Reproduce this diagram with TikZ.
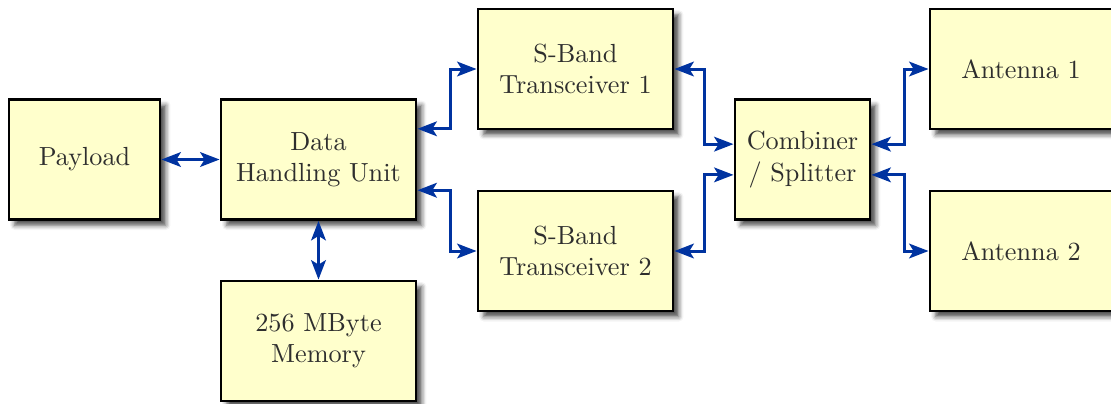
\documentclass[tikz,border=0pt]{standalone}
\usetikzlibrary{arrows.meta,calc,shadows.blur}
\definecolor{boxfill}{HTML}{FFFFCC}
\definecolor{linkblue}{HTML}{0033A0}
\tikzset{
  block/.style={draw=black, line width=1.1pt, fill=boxfill, text=black!82,
    align=center, inner sep=2pt, minimum height=45.8pt,
    blur shadow={shadow xshift=2.2pt, shadow yshift=-2.2pt,
      shadow blur radius=1.8pt, shadow opacity=70}},
  wide/.style={minimum width=74.42pt},
  tip/.style={Stealth[length=7.4pt,width=5.6pt,inset=1.7pt]},
  link/.style={draw=linkblue, line width=1.15pt, {Stealth[length=7.4pt,width=5.6pt,inset=1.7pt]}-{Stealth[length=7.4pt,width=5.6pt,inset=1.7pt]}}
}
\begin{document}
\begin{tikzpicture}[x=0.38164pt, y=-0.38164pt]
  \useasboundingbox (0,0) rectangle (1111,403);
  % blocks
  \node[block, minimum width=57.63pt] (pay) at (84.5,159.5) {Payload};
  \node[block, wide] (dhu) at (318.5,159.5) {Data\\Handling Unit};
  \node[block, wide] (mem) at (318.5,341) {256 MByte\\Memory};
  \node[block, wide] (st1) at (575.5,69) {S-Band\\Transceiver 1};
  \node[block, wide] (st2) at (575.5,251) {S-Band\\Transceiver 2};
  \node[block, minimum width=51.52pt] (comb) at (802.5,159.5) {Combiner\\/ Splitter};
  \node[block, minimum width=69.46pt] (ant1) at (1021,69) {Antenna 1};
  \node[block, minimum width=69.46pt] (ant2) at (1021,251) {Antenna 2};
  % ports on the sides of the data handling unit and the combiner
  \coordinate (dhuA) at ($(dhu.north east)!0.25!(dhu.south east)$);
  \coordinate (dhuB) at ($(dhu.north east)!0.75!(dhu.south east)$);
  \coordinate (combLA) at ($(comb.north west)!0.375!(comb.south west)$);
  \coordinate (combLB) at ($(comb.north west)!0.625!(comb.south west)$);
  \coordinate (combRA) at ($(comb.north east)!0.375!(comb.south east)$);
  \coordinate (combRB) at ($(comb.north east)!0.625!(comb.south east)$);
  % connections
  \draw[link] (pay.east) -- (dhu.west);
  \draw[link] (dhu.south) -- (mem.north);
  \draw[link] (dhuA) -- ++(33,0) |- (st1.west);
  \draw[link] (dhuB) -- ++(33,0) |- (st2.west);
  \draw[link] (st1.east) -- ++(30,0) |- (combLA);
  \draw[link] (st2.east) -- ++(30,0) |- (combLB);
  \draw[link] (combRA) -- ++(33,0) |- (ant1.west);
  \draw[link] (combRB) -- ++(33,0) |- (ant2.west);
\end{tikzpicture}
\end{document}
